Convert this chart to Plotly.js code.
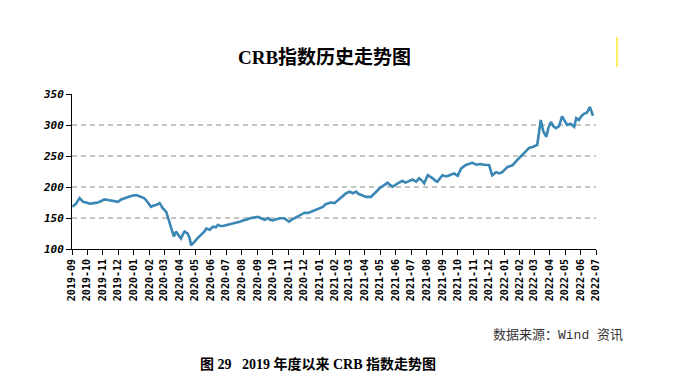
<!DOCTYPE html>
<html>
<head>
<meta charset="utf-8">
<script src="https://cdn.plot.ly/plotly-3.0.1.min.js"></script>
<style>html,body{margin:0;padding:0;background:#fff;}#chart{width:682px;height:378px;}</style>
</head>
<body>
<div id="chart"></div>
<script>
const dates = [
"2019-09-02","2019-09-09","2019-09-16","2019-09-23","2019-09-29","2019-10-06","2019-10-14","2019-10-22","2019-10-28",
"2019-11-04","2019-11-11","2019-11-17","2019-11-25","2019-12-01","2019-12-07","2019-12-14","2019-12-20","2019-12-28",
"2020-01-06","2020-01-11","2020-01-15","2020-01-21","2020-01-25","2020-01-31","2020-02-04","2020-02-09","2020-02-14",
"2020-02-21","2020-02-27","2020-03-05","2020-03-08","2020-03-11","2020-03-16","2020-03-20","2020-03-24","2020-03-30",
"2020-04-03","2020-04-07","2020-04-10","2020-04-16","2020-04-20","2020-04-23","2020-04-26","2020-04-30","2020-05-04",
"2020-05-09","2020-05-14","2020-05-19","2020-05-23","2020-05-30","2020-06-05","2020-06-11","2020-06-15","2020-06-20",
"2020-06-25","2020-07-02","2020-07-08","2020-07-14","2020-07-21","2020-07-28","2020-08-03","2020-08-10","2020-08-17",
"2020-08-24","2020-09-02","2020-09-07","2020-09-15","2020-09-22","2020-09-26","2020-10-01","2020-10-09","2020-10-15",
"2020-10-24","2020-11-02","2020-11-07","2020-11-13","2020-11-23","2020-12-03","2020-12-10","2020-12-16","2020-12-26",
"2021-01-01","2021-01-08","2021-01-13","2021-01-18","2021-01-23","2021-01-31","2021-02-06","2021-02-12","2021-02-18",
"2021-02-23","2021-03-02","2021-03-08","2021-03-15","2021-03-19","2021-03-25","2021-04-03","2021-04-13","2021-04-20",
"2021-04-30","2021-05-09","2021-05-16","2021-05-21","2021-05-26","2021-06-05","2021-06-14","2021-06-20","2021-06-24",
"2021-07-04","2021-07-11","2021-07-17","2021-07-23","2021-07-27","2021-08-03","2021-08-13","2021-08-18","2021-08-22",
"2021-09-01","2021-09-09","2021-09-15","2021-09-24","2021-10-01","2021-10-08","2021-10-17","2021-10-24","2021-10-30",
"2021-11-07","2021-11-15","2021-11-22","2021-12-02","2021-12-08","2021-12-16","2021-12-22","2021-12-28",
"2022-01-07","2022-01-17","2022-01-26","2022-02-05","2022-02-13","2022-02-19","2022-02-27","2022-03-07","2022-03-10",
"2022-03-14","2022-03-19","2022-03-25","2022-03-29","2022-04-03","2022-04-08","2022-04-13","2022-04-19","2022-04-25",
"2022-04-30","2022-05-05","2022-05-12","2022-05-19","2022-05-23","2022-05-28","2022-06-01","2022-06-07","2022-06-13",
"2022-06-19","2022-06-25"
];
const crb = [
168,173,182,176,175,173,174,175,177,
180,179,178,177,176,180,182,184,186,
187,185,184,182,179,172,168,170,171,
174,166,160,152,144,132,120,128,122,
117,124,128,125,118,106,108,112,116,
120,124,128,133,131,136,135,139,137,
137,139,140,141,142,144,146,147,149.5,
151,152,150,147,150,147,146,148,149.5,
149.5,144,147,149.5,155,158.5,158,160,164,
165,168,172,174,175,174,178,183,187,
190,192.5,190,192.5,189,187,184,184,190,
198,203,207,203,200.5,206,210,207,208.6,
212,208.6,214,210,206,219,214,210,208.6,
219,217,219,222,218,230,235.5,237,239,
236,237,236,235.5,219,224,222,224,
232,235,243,252,258,263,265,268,285,
308,290,281,295,305,298,295,298,314,
307,300,302,297,311,308,313,318,320,
329,315
];
const yTicks = [100,150,200,250,300,350];
const titleText = "CRB指数历史走势图";
const sourceText = "数据来源：Wind 资讯";
const captionText = "图 29&nbsp;&nbsp; 2019 年度以来 CRB 指数走势图";

const trace = {
  x: dates, y: crb, type: "scatter", mode: "lines",
  line: {color: "#3a86b4", width: 2.6}, hoverinfo: "skip"
};

const layout = {
  width: 682, height: 378,
  margin: {l: 72, r: 86, t: 94, b: 129, pad: 0},
  paper_bgcolor: "#ffffff", plot_bgcolor: "#ffffff",
  showlegend: false,
  xaxis: {
    type: "date",
    range: ["2019-09-01", "2022-07-01"],
    tick0: "2019-09-01", dtick: "M1", tickformat: "%Y-%m",
    tickangle: -90,
    ticks: "outside", ticklen: 5, tickcolor: "#000", tickwidth: 1,
    showline: true, linecolor: "#000", linewidth: 1,
    showgrid: false, zeroline: false,
    tickfont: {family: "DejaVu Sans Mono, monospace", size: 10, color: "#000", weight: "bold"}
  },
  yaxis: {
    range: [100, 350],
    tickvals: yTicks,
    ticks: "outside", ticklen: 5, tickcolor: "#000", tickwidth: 1,
    showline: true, linecolor: "#000", linewidth: 1,
    showgrid: true, gridcolor: "#c4c4c4", gridwidth: 1.5, griddash: "5px,4px",
    zeroline: false,
    tickfont: {family: "DejaVu Sans Mono, monospace", size: 11, color: "#000", style: "italic", weight: "bold"}
  },
  annotations: [
    {text: titleText, xref: "paper", yref: "paper", x: 0.4828, y: 1.2387,
     xanchor: "center", yanchor: "middle", showarrow: false,
     font: {family: "Liberation Serif, Noto Sans CJK SC, serif", size: 19, color: "#000", weight: "bold"}},
    {text: sourceText, xref: "paper", yref: "paper", x: 1.0553, y: -0.561,
     xanchor: "right", yanchor: "middle", showarrow: false,
     font: {family: "Liberation Mono, Noto Sans CJK SC, monospace", size: 13, color: "#333"}},
    {text: captionText, xref: "paper", yref: "paper", x: 0.2405, y: -0.742,
     xanchor: "left", yanchor: "middle", showarrow: false,
     font: {family: "Liberation Serif, Noto Sans CJK SC, serif", size: 14, color: "#000", weight: "bold"}}
  ],
  shapes: [
    {type: "line", xref: "paper", yref: "paper", x0: 1.040, x1: 1.040, y0: 1.174, y1: 1.368,
     line: {color: "#f2e600", width: 1.2}}
  ]
};

Plotly.newPlot("chart", [trace], layout, {displayModeBar: false, staticPlot: true});
</script>
</body>
</html>
